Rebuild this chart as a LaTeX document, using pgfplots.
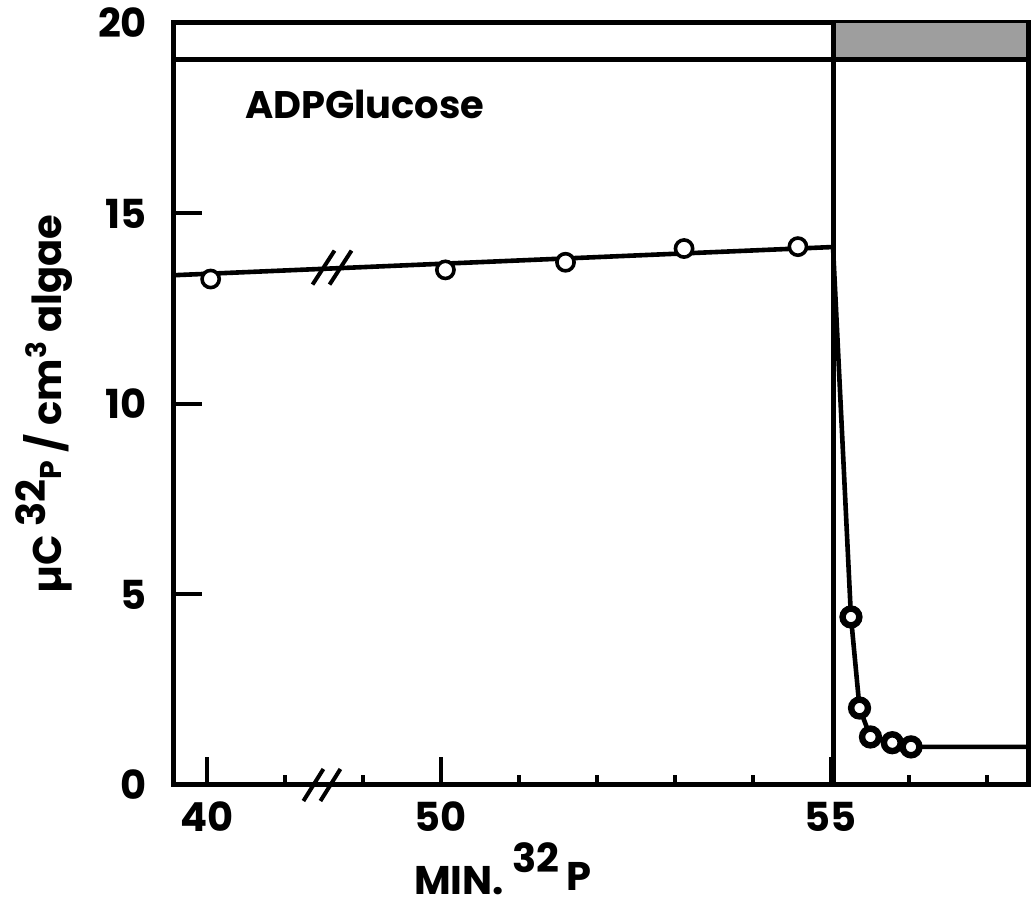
\documentclass[border=0pt]{standalone}
\usepackage{fontspec}
\setmainfont{Poppins}
\usepackage{pgfplots}
\pgfplotsset{compat=1.18}
% x runs on a broken scale: 40,41 | 49,50,...,57 -> plotted at 40,41 | 42,43,...,50
\begin{document}
\begin{tikzpicture}
\begin{axis}[
  scale only axis, width=427pt, height=381pt,
  xmin=39.58, xmax=50.53, ymin=0, ymax=20,
  clip=false,
  axis line style={line width=2.5pt},
  xtick={40,43,48}, xticklabels={40,50,55},
  minor xtick={41,42,44,45,46,47,49,50},
  ytick={0,5,10,15,20}, yticklabels={0,5,10,15,20},
  xtick pos=left, ytick pos=left,
  tick align=inside,
  major tick length=14pt, minor tick length=5pt,
  tick style={line width=2pt, black},
  ticklabel style={font=\bfseries\fontsize{20}{22}\selectfont},
  xticklabel style={yshift=-5pt},
  yticklabel style={xshift=-10pt},
  xlabel={MIN.\ \raisebox{11pt}{32}\,\raisebox{2pt}{P}},
  ylabel={µC \raisebox{8pt}{32}{\fontsize{15}{15}\selectfont P} / cm\textsuperscript{3} algae},
  label style={font=\bfseries\fontsize{20}{22}\selectfont},
  xlabel style={at={(axis description cs:0.385,-0.11)}, anchor=center},
  ylabel style={at={(axis description cs:-0.152,0.5)}, anchor=center},
]
% fitted line, light period
\addplot[black, line width=2.3pt] coordinates {(39.58,13.38) (48.03,14.12)};
% fitted curve after the change
\addplot[black, line width=2.3pt] coordinates {(48.03,14.12) (48.26,4.41) (48.37,2.02) (48.51,1.26) (48.79,1.11) (49.03,1.0) (50.53,1.0)};
% measured, open circles
\addplot[only marks, mark=*, mark size=4.3pt, mark options={fill=white, draw=black, line width=1.8pt}]
  coordinates {(40.05,13.28) (43.06,13.52) (44.6,13.72) (46.12,14.08) (47.58,14.13)};
% measured, heavy circles
\addplot[only marks, mark=*, mark size=4.2pt, mark options={fill=white, draw=black, line width=3.2pt}]
  coordinates {(48.26,4.41) (48.37,2.02) (48.51,1.26) (48.79,1.11) (49.03,1.0)};

% light/dark bar on top
\fill[black!38] (axis cs:48.03,19.03) rectangle (axis cs:50.53,20);
\draw[line width=2.5pt] (axis cs:39.58,19.03) -- (axis cs:50.53,19.03);
\draw[line width=2.5pt] (axis cs:48.03,0) -- (axis cs:48.03,20);
\draw[line width=2.5pt] (axis cs:50.53,0) -- (axis cs:50.53,20);

% axis breaks
\draw[line width=2pt] ([xshift=-9pt,yshift=-8pt]axis cs:41.47,0) -- ++(10pt,16pt);
\draw[line width=2pt] ([xshift=-0.5pt,yshift=-8pt]axis cs:41.47,0) -- ++(10pt,16pt);
\draw[line width=2pt] ([xshift=-9.5pt,yshift=-8.5pt]axis cs:41.6,13.58) -- ++(11pt,17pt);
\draw[line width=2pt] ([xshift=-1pt,yshift=-8.5pt]axis cs:41.6,13.58) -- ++(11pt,17pt);

\node[anchor=west, font=\bfseries\fontsize{19.2}{20}\selectfont] at (axis cs:40.4,17.85) {ADPGlucose};
\end{axis}
\pgfresetboundingbox
\path ([xshift=-87pt,yshift=-64.5pt]current axis.south west) rectangle ([xshift=2.5pt,yshift=11.5pt]current axis.north east);
\end{tikzpicture}
\end{document}
